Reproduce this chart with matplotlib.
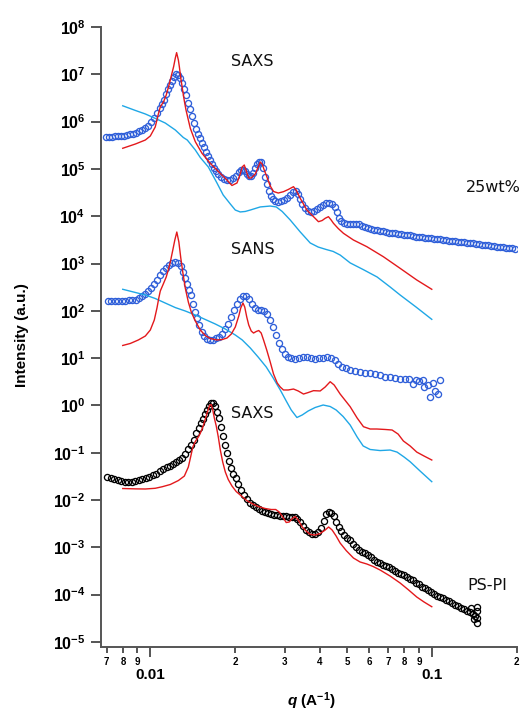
import matplotlib
matplotlib.use("Agg")
import matplotlib.pyplot as plt
from matplotlib.ticker import FixedLocator

# ---------------- data ----------------
# SAXS, 25wt% (blue open circles)
saxs25_q = [0.00698, 0.00715, 0.00733, 0.00751, 0.00770, 0.00789, 0.00809, 0.00829, 0.00849, 0.00871,
            0.00892, 0.00914, 0.00937, 0.00960, 0.00984, 0.01008, 0.01033, 0.01059, 0.01085, 0.01103,
            0.01121, 0.01139, 0.01158, 0.01178, 0.01197, 0.01217, 0.01237, 0.01258, 0.01278, 0.01299,
            0.01321, 0.01342, 0.01365, 0.01387, 0.01410, 0.01433, 0.01457, 0.01481, 0.01505, 0.01530,
            0.01555, 0.01581, 0.01607, 0.01633, 0.01660, 0.01688, 0.01715, 0.01744, 0.01786, 0.01831,
            0.01876, 0.01923, 0.01970, 0.02019, 0.02070, 0.02104, 0.02138, 0.02174, 0.02210, 0.02246,
            0.02283, 0.02320, 0.02360, 0.02398, 0.02437, 0.02477, 0.02518, 0.02561, 0.02602, 0.02644,
            0.02689, 0.02733, 0.02779, 0.02848, 0.02917, 0.02990, 0.03064, 0.03141, 0.03218, 0.03298,
            0.03353, 0.03409, 0.03464, 0.03551, 0.03638, 0.03728, 0.03821, 0.03916, 0.04013, 0.04112,
            0.04214, 0.04318, 0.04426, 0.04537, 0.04612, 0.04688, 0.04764, 0.04883, 0.05004, 0.05129,
            0.05256, 0.05387, 0.05520, 0.05658, 0.05797, 0.05941, 0.06088, 0.06240, 0.06394, 0.06553,
            0.06715, 0.06882, 0.07052, 0.07227, 0.07406, 0.07592, 0.07780, 0.07973, 0.08171, 0.08375,
            0.08583, 0.08796, 0.09013, 0.09238, 0.09467, 0.09703, 0.09943, 0.1019, 0.1044, 0.1070,
            0.1097, 0.1124, 0.1152, 0.1181, 0.1210, 0.1240, 0.1271, 0.1302, 0.1335, 0.1368,
            0.1402, 0.1437, 0.1472, 0.1509, 0.1547, 0.1585, 0.1624, 0.1664, 0.1705, 0.1748,
            0.1791, 0.1836, 0.1881, 0.1928, 0.1976]
saxs25_I = [4.84e5, 4.84e5, 4.84e5, 4.89e5, 4.96e5, 5.01e5, 5.08e5, 5.21e5, 5.34e5, 5.47e5,
            5.74e5, 6.18e5, 6.64e5, 7.32e5, 8.26e5, 1.0e6, 1.19e6, 1.52e6, 1.94e6, 2.36e6,
            2.86e6, 3.84e6, 4.89e6, 5.94e6, 7.21e6, 8.77e6, 1.01e7, 9.66e6, 8.35e6, 6.55e6,
            4.89e6, 3.65e6, 2.47e6, 1.85e6, 1.31e6, 9.33e5, 6.98e5, 5.47e5, 4.50e5, 3.53e5,
            2.90e5, 2.28e5, 1.87e5, 1.54e5, 1.27e5, 1.04e5, 9.03e4, 7.80e4, 6.74e4, 6.11e4,
            5.82e4, 5.82e4, 6.42e4, 7.08e4, 8.59e4, 9.48e4, 9.71e4, 9.03e4, 7.80e4, 7.08e4,
            7.08e4, 8.18e4, 1.04e5, 1.27e5, 1.43e5, 1.40e5, 1.04e5, 6.74e4, 4.80e4, 3.41e4,
            2.67e4, 2.31e4, 2.10e4, 2.00e4, 2.05e4, 2.20e4, 2.43e4, 2.81e4, 3.25e4, 3.33e4,
            2.94e4, 2.31e4, 1.81e4, 1.49e4, 1.29e4, 1.23e4, 1.29e4, 1.42e4, 1.57e4, 1.73e4,
            1.86e4, 1.90e4, 1.81e4, 1.57e4, 1.23e4, 9.17e3, 7.93e3, 7.18e3, 6.84e3, 6.84e3,
            6.84e3, 7.01e3, 6.84e3, 6.35e3, 5.91e3, 5.50e3, 5.24e3, 5.11e3, 4.99e3, 4.87e3,
            4.75e3, 4.63e3, 4.52e3, 4.41e3, 4.31e3, 4.20e3, 4.14e3, 4.06e3, 3.96e3, 3.91e3,
            3.81e3, 3.72e3, 3.63e3, 3.58e3, 3.53e3, 3.46e3, 3.41e3, 3.36e3, 3.29e3, 3.25e3,
            3.18e3, 3.11e3, 3.05e3, 2.99e3, 2.95e3, 2.90e3, 2.85e3, 2.81e3, 2.77e3, 2.71e3,
            2.66e3, 2.61e3, 2.56e3, 2.51e3, 2.46e3, 2.42e3, 2.37e3, 2.32e3, 2.28e3, 2.23e3,
            2.20e3, 2.17e3, 2.13e3, 2.10e3, 2.06e3]

# SAXS 25wt% models
saxs25_red_q = [0.00798, 0.00885, 0.00960, 0.01000, 0.01041, 0.01068, 0.01085, 0.01115, 0.01139, 0.01161,
                0.01187, 0.01210, 0.01227, 0.01240, 0.01258, 0.01268, 0.01283, 0.01302, 0.01321, 0.01339,
                0.01365, 0.01387, 0.01445, 0.01526, 0.01633, 0.01748, 0.01872, 0.01950, 0.02032, 0.02087,
                0.02121, 0.02157, 0.02192, 0.02234, 0.02283, 0.02360, 0.02417, 0.02458, 0.02497, 0.02539,
                0.02596, 0.02667, 0.02740, 0.02848, 0.02972, 0.03091, 0.03226, 0.03298, 0.03409, 0.03600,
                0.03800, 0.03958, 0.04079, 0.04181, 0.04294, 0.04390, 0.04474, 0.04651, 0.04855, 0.05268,
                0.05877, 0.06732, 0.07718, 0.08846, 0.1]
saxs25_red_I = [2.73e5, 3.36e5, 4.08e5, 4.97e5, 7.69e5, 1.45e6, 2.04e6, 2.64e6, 3.65e6, 5.47e6,
                9.20e6, 1.45e7, 2.21e7, 2.87e7, 2.0e7, 1.45e7, 8.35e6, 4.66e6, 2.73e6, 1.76e6,
                1.08e6, 7.21e5, 3.76e5, 2.14e5, 1.31e5, 8.73e4, 5.82e4, 4.46e4, 5.04e4, 7.80e4,
                1.10e5, 1.21e5, 9.03e4, 6.43e4, 6.43e4, 7.80e4, 1.10e5, 1.40e5, 1.27e5, 9.48e4,
                6.74e4, 4.36e4, 3.33e4, 3.09e4, 3.30e4, 3.67e4, 4.21e4, 3.57e4, 2.39e4, 1.35e4,
                9.77e3, 7.65e3, 8.11e3, 9.03e3, 9.77e3, 8.32e3, 7.08e3, 5.50e3, 4.35e3, 3.14e3,
                2.27e3, 1.39e3, 7.91e2, 4.48e2, 2.85e2]
saxs25_cyan_q = [0.00798, 0.00885, 0.00960, 0.01041, 0.01130, 0.01227, 0.01310, 0.01353, 0.01445, 0.01505,
                 0.01607, 0.01725, 0.01815, 0.01923, 0.02004, 0.02087, 0.02174, 0.02265, 0.02458, 0.02667,
                 0.02802, 0.02941, 0.03141, 0.03409, 0.03698, 0.03948, 0.04214, 0.04463, 0.04726, 0.05129,
                 0.05704, 0.06394, 0.07112, 0.07718, 0.08796, 0.1]
saxs25_cyan_I = [2.16e6, 1.72e6, 1.45e6, 1.17e6, 9.33e5, 6.64e5, 4.61e5, 4.08e5, 2.51e5, 1.74e5,
                 1.10e5, 5.04e4, 2.81e4, 1.82e4, 1.35e4, 1.23e4, 1.26e4, 1.35e4, 1.57e4, 1.64e4,
                 1.57e4, 1.26e4, 8.32e3, 4.65e3, 2.72e3, 2.23e3, 1.98e3, 1.80e3, 1.51e3, 1.03e3,
                 7.46e2, 5.19e2, 3.19e2, 2.16e2, 1.20e2, 66]

# SANS (blue open circles)
sans_q = [0.00708, 0.00727, 0.00748, 0.00770, 0.00792, 0.00815, 0.00839, 0.00863, 0.00888, 0.00914,
          0.00937, 0.00960, 0.00984, 0.01008, 0.01033, 0.01059, 0.01085, 0.01112, 0.01139, 0.01168,
          0.01197, 0.01227, 0.01258, 0.01283, 0.01310, 0.01331, 0.01353, 0.01376, 0.01398, 0.01422,
          0.01445, 0.01469, 0.01493, 0.01524, 0.01555, 0.01594, 0.01633, 0.01673, 0.01715, 0.01758,
          0.01801, 0.01847, 0.01892, 0.01940, 0.01987, 0.02037, 0.02087, 0.02138, 0.02192, 0.02246,
          0.02302, 0.02360, 0.02417, 0.02477, 0.02539, 0.02602, 0.02667, 0.02733, 0.02802, 0.02871,
          0.02941, 0.03016, 0.03091, 0.03167, 0.03272, 0.03381, 0.03492, 0.03609, 0.03728, 0.03853,
          0.03981, 0.04112, 0.04249, 0.04390, 0.04537, 0.04651, 0.04805, 0.04964, 0.05129, 0.05342,
          0.05565, 0.05797, 0.0604, 0.06290, 0.06553, 0.06826, 0.07112, 0.07406, 0.07718, 0.08039,
          0.08307, 0.08583, 0.08796, 0.09013, 0.09311, 0.09388, 0.09703, 0.09862, 0.1011, 0.1027,
          0.1053, 0.1070]
sans_I = [161, 161, 161, 163, 165, 165, 168, 169, 173, 187,
          201, 227, 262, 303, 369, 448, 571, 694, 822, 952,
          1050, 1100, 1050, 885, 661, 493, 369, 275, 216, 139,
          96.6, 70.5, 50.1, 35.6, 29.3, 25.9, 24.7, 24.7, 26.6, 28.6,
          33.1, 41.2, 53.9, 74.0, 104, 139, 177, 205, 201, 177,
          139, 115, 106, 104, 99.1, 85.6, 63.9, 45.4, 30.8, 20.8,
          15.6, 12.5, 10.8, 10.0, 9.81, 10.3, 10.8, 10.5, 10.0, 9.81,
          10.0, 10.3, 10.5, 10.3, 9.12, 7.50, 6.48, 6.03, 5.60, 5.33,
          5.08, 4.95, 4.84, 4.61, 4.29, 4.08, 3.98, 3.88, 3.70, 3.70,
          3.53, 2.83, 3.44, 3.36, 3.44, 2.45, 2.70, 1.53, 2.98, 2.05,
          1.72, 3.44]

# SANS models
sans_red_q = [0.00798, 0.00849, 0.00907, 0.00960, 0.01000, 0.01033, 0.01056, 0.01072, 0.01085, 0.01112,
              0.01139, 0.01158, 0.01178, 0.01202, 0.01222, 0.01242, 0.01263, 0.01283, 0.01304, 0.01331,
              0.01365, 0.01398, 0.01445, 0.01505, 0.01568, 0.01633, 0.01725, 0.01801, 0.01872, 0.01940,
              0.02004, 0.02062, 0.02096, 0.02134, 0.02165, 0.02201, 0.02237, 0.02283, 0.02327, 0.02378,
              0.02428, 0.02477, 0.02525, 0.02592, 0.02667, 0.02740, 0.02824, 0.02895, 0.02972, 0.03091,
              0.03226, 0.03353, 0.03501, 0.03638, 0.03800, 0.04013, 0.04181, 0.04355, 0.04500, 0.04726,
              0.05129, 0.05430, 0.05718, 0.06040, 0.06379, 0.06826, 0.07227, 0.07592, 0.07927, 0.08375,
              0.08846, 0.09388, 0.1]
sans_red_I = [18.5, 20.4, 24.2, 29.3, 39.3, 63.9, 115, 187, 262, 369,
              519, 729, 1080, 1930, 3140, 4630, 2850, 1310, 661, 303,
              153, 94.3, 60.9, 39.3, 30.0, 25.9, 24.2, 24.7, 26.6, 32.3,
              45.4, 77.6, 115, 146, 120, 74.0, 50.1, 37.4, 33.9, 36.5,
              38.3, 33.9, 24.2, 14.8, 8.28, 4.61, 2.98, 2.45, 2.12, 2.12,
              2.22, 2.02, 1.74, 1.87, 2.05, 2.02, 2.45, 3.17, 2.70, 1.74,
              0.940, 0.542, 0.355, 0.317, 0.317, 0.310, 0.302, 0.248, 0.177, 0.139,
              0.103, 0.0851, 0.0701]
sans_cyan_q = [0.00798, 0.00885, 0.00960, 0.01041, 0.01130, 0.01227, 0.01331, 0.01445, 0.01568, 0.01702,
               0.01847, 0.02004, 0.02121, 0.02265, 0.02417, 0.02582, 0.02733, 0.02895, 0.03040, 0.03167,
               0.03318, 0.03464, 0.03638, 0.03853, 0.04112, 0.04355, 0.04574, 0.04843, 0.05129, 0.05430,
               0.05704, 0.06040, 0.06553, 0.07112, 0.07529, 0.07973, 0.08375, 0.09088, 0.1]
sans_cyan_I = [285, 244, 216, 182, 146, 117, 99.1, 81.5, 65.5, 52.6,
               41.2, 30.8, 24.2, 16.4, 10.5, 6.48, 3.79, 2.12, 1.24, 0.800,
               0.555, 0.627, 0.762, 0.904, 1.02, 0.948, 0.800, 0.582, 0.385, 0.215,
               0.139, 0.117, 0.111, 0.114, 0.103, 0.0811, 0.0646, 0.0410, 0.0244]

# SAXS, PS-PI (black open circles)
pspi_q = [0.00704, 0.00724, 0.00745, 0.00767, 0.00789, 0.00812, 0.00835, 0.00860, 0.00885, 0.00910,
          0.00937, 0.00964, 0.00992, 0.01021, 0.01050, 0.01081, 0.01112, 0.01144, 0.01178, 0.01207,
          0.01237, 0.01268, 0.01299, 0.01331, 0.01365, 0.01398, 0.01427, 0.01457, 0.01487, 0.01518,
          0.01542, 0.01568, 0.01594, 0.01620, 0.01647, 0.01673, 0.01702, 0.01729, 0.01758, 0.01786,
          0.01815, 0.01847, 0.01876, 0.01907, 0.01940, 0.01970, 0.02011, 0.02053, 0.02104, 0.02157,
          0.02210, 0.02265, 0.02320, 0.02378, 0.02437, 0.02497, 0.02561, 0.02624, 0.02689, 0.02756,
          0.02824, 0.02895, 0.02966, 0.03040, 0.03115, 0.03193, 0.03259, 0.03325, 0.03409, 0.03492,
          0.03579, 0.03667, 0.03759, 0.03853, 0.03948, 0.04046, 0.04128, 0.04214, 0.04300, 0.04390,
          0.04480, 0.04574, 0.04668, 0.04764, 0.04883, 0.05004, 0.05129, 0.05256, 0.05387, 0.05520,
          0.05658, 0.05797, 0.05941, 0.06088, 0.06240, 0.06394, 0.06553, 0.06715, 0.06882, 0.07052,
          0.07227, 0.07406, 0.07592, 0.07780, 0.07973, 0.08171, 0.08375, 0.08583, 0.08796, 0.09013,
          0.09238, 0.09467, 0.09703, 0.09943, 0.1019, 0.1044, 0.1070, 0.1097, 0.1124, 0.1152,
          0.1181, 0.1210, 0.1240, 0.1271, 0.1302, 0.1335, 0.1368, 0.1396, 0.1425, 0.1442,
          0.1448, 0.1448, 0.1448, 0.1413, 0.1379]
pspi_I = [0.0311, 0.0292, 0.0274, 0.0261, 0.0252, 0.0246, 0.0244, 0.0246, 0.0252, 0.0261,
          0.0274, 0.0292, 0.0311, 0.0334, 0.0363, 0.0401, 0.0442, 0.0499, 0.0536, 0.0577,
          0.0621, 0.0701, 0.0792, 0.0940, 0.117, 0.146, 0.186, 0.261, 0.333, 0.425,
          0.528, 0.643, 0.800, 0.995, 1.12, 1.10, 0.971, 0.725, 0.542, 0.349,
          0.225, 0.146, 0.0986, 0.0668, 0.0475, 0.0363, 0.0285, 0.0218, 0.0163, 0.0128,
          0.0103, 8.65e-3, 7.66e-3, 6.95e-3, 6.46e-3, 6.00e-3, 5.57e-3, 5.31e-3, 5.06e-3, 4.93e-3,
          4.82e-3, 4.70e-3, 4.59e-3, 4.70e-3, 4.48e-3, 4.37e-3, 4.48e-3, 3.96e-3, 3.43e-3, 2.82e-3,
          2.32e-3, 2.06e-3, 1.91e-3, 1.91e-3, 2.10e-3, 2.56e-3, 3.60e-3, 5.06e-3, 5.71e-3, 5.44e-3,
          4.59e-3, 3.43e-3, 2.69e-3, 2.21e-3, 1.82e-3, 1.57e-3, 1.43e-3, 1.17e-3, 9.91e-4, 8.77e-4,
          7.96e-4, 7.40e-4, 6.87e-4, 6.24e-4, 5.52e-4, 5.01e-4, 4.66e-4, 4.33e-4, 4.12e-4, 3.83e-4,
          3.48e-4, 3.23e-4, 2.93e-4, 2.73e-4, 2.54e-4, 2.36e-4, 2.14e-4, 1.99e-4, 1.80e-4, 1.64e-4,
          1.48e-4, 1.38e-4, 1.25e-4, 1.14e-4, 1.03e-4, 9.57e-5, 8.89e-5, 8.47e-5, 7.87e-5, 7.33e-5,
          6.64e-5, 6.18e-5, 5.74e-5, 5.33e-5, 4.96e-5, 4.61e-5, 4.28e-5, 3.89e-5, 3.52e-5, 5.47e-5,
          4.50e-5, 3.20e-5, 2.57e-5, 3.05e-5, 5.21e-5]
pspi_red_q = [0.00798, 0.00885, 0.00960, 0.01041, 0.01103, 0.01178, 0.01258, 0.01321, 0.01365, 0.01393,
              0.01416, 0.01445, 0.01481, 0.01505, 0.01542, 0.01568, 0.01599, 0.01627, 0.01647, 0.01667,
              0.01688, 0.01715, 0.01744, 0.01773, 0.01808, 0.01847, 0.01892, 0.01950, 0.02019, 0.02116,
              0.02201, 0.02296, 0.02417, 0.02561, 0.02689, 0.02790, 0.02871, 0.02954, 0.03040, 0.03115,
              0.03193, 0.03272, 0.03353, 0.03464, 0.03579, 0.03698, 0.03853, 0.04013, 0.04181, 0.04300,
              0.04426, 0.04574, 0.04726, 0.04964, 0.05268, 0.05565, 0.05877, 0.06189, 0.06553, 0.07112,
              0.07718, 0.08239, 0.08846, 0.09388, 0.1]
pspi_red_I = [0.0175, 0.0172, 0.0171, 0.0177, 0.0191, 0.0213, 0.0258, 0.0321, 0.0499, 0.0851,
              0.132, 0.173, 0.215, 0.257, 0.367, 0.515, 0.762, 1.02, 1.04, 0.800,
              0.542, 0.367, 0.215, 0.114, 0.0636, 0.0391, 0.0271, 0.0198, 0.0151, 0.0119,
              9.76e-3, 8.43e-3, 7.29e-3, 6.61e-3, 6.30e-3, 6.30e-3, 5.57e-3, 4.37e-3, 3.34e-3, 3.43e-3,
              4.06e-3, 4.48e-3, 3.78e-3, 2.69e-3, 2.21e-3, 1.87e-3, 1.82e-3, 1.96e-3, 2.32e-3, 2.69e-3,
              2.32e-3, 1.73e-3, 1.23e-3, 8.55e-4, 5.94e-4, 4.89e-4, 4.44e-4, 3.93e-4, 3.31e-4, 2.47e-4,
              1.76e-4, 1.28e-4, 8.89e-5, 6.98e-5, 5.55e-5]

# tick labels
y_exponents = list(range(-5, 9))
x_major = [0.01, 0.1]
x_major_labels = ["0.01", "0.1"]
x_minor = [0.007, 0.008, 0.009, 0.02, 0.03, 0.04, 0.05, 0.06, 0.07, 0.08, 0.09, 0.2]
x_minor_labels = ["7", "8", "9", "2", "3", "4", "5", "6", "7", "8", "9", "2"]

# ---------------- style ----------------
plt.rcParams['mathtext.fontset'] = 'custom'
plt.rcParams['mathtext.rm'] = 'Liberation Sans:bold'
plt.rcParams['mathtext.bf'] = 'Liberation Sans:bold'
plt.rcParams['mathtext.it'] = 'Liberation Sans:bold:italic'
plt.rcParams['font.family'] = ['Liberation Sans', 'DejaVu Sans']

BLUE = '#2f5fd9'
RED = '#e3191c'
CYAN = '#1fa7e6'
AXC = '#555555'

W, H = 521, 711
fig = plt.figure(figsize=(W / 100, H / 100), dpi=100)
ax = fig.add_axes([101 / W, 1 - 646.5 / H, (516.5 - 101) / W, (646.5 - 27) / H])
ax.set_xscale('log')
ax.set_yscale('log')
ax.set_xlim(0.00668, 0.2)
ax.set_ylim(8.0e-6, 1e8)

mk = dict(linestyle='none', marker='o', markersize=4.4, markerfacecolor='none', markeredgewidth=0.95)
ax.plot(saxs25_q, saxs25_I, markeredgecolor=BLUE, **mk, zorder=2)
ax.plot(sans_q, sans_I, markeredgecolor=BLUE, **mk, zorder=2)
ax.plot(pspi_q, pspi_I, markeredgecolor='black', **mk, zorder=2)

ax.plot(saxs25_cyan_q, saxs25_cyan_I, color=CYAN, lw=1.0, zorder=3)
ax.plot(sans_cyan_q, sans_cyan_I, color=CYAN, lw=1.0, zorder=3)
ax.plot(saxs25_red_q, saxs25_red_I, color=RED, lw=1.0, zorder=4)
ax.plot(sans_red_q, sans_red_I, color=RED, lw=1.0, zorder=4)
ax.plot(pspi_red_q, pspi_red_I, color=RED, lw=1.0, zorder=4)

# axes styling
for s in ['top', 'right']:
    ax.spines[s].set_visible(False)
for s in ['left', 'bottom']:
    ax.spines[s].set_color(AXC)
    ax.spines[s].set_linewidth(1.4)

ax.yaxis.set_major_locator(FixedLocator([10.0 ** k for k in y_exponents]))
ax.set_yticklabels([r'$10^{%d}$' % k for k in y_exponents], fontsize=11.5)
ax.yaxis.set_minor_locator(FixedLocator([]))
ax.tick_params(axis='y', which='major', direction='out', length=7.2, width=1.4, color=AXC, pad=4)

ax.xaxis.set_major_locator(FixedLocator(x_major))
ax.set_xticklabels(x_major_labels, fontsize=11, fontweight='bold')
ax.xaxis.set_minor_locator(FixedLocator(x_minor))
ax.set_xticklabels(x_minor_labels, minor=True, fontsize=7, fontweight='bold')
ax.tick_params(axis='x', which='major', direction='out', length=7.2, width=1.4, color=AXC, pad=8.5)
ax.tick_params(axis='x', which='minor', direction='out', length=4.3, width=1.4, color=AXC, pad=3.0)

# axis titles
fig.text(22 / W, 1 - 335 / H, 'Intensity (a.u.)', rotation=90, fontsize=11, fontweight='bold',
         ha='center', va='center')
fig.text(311 / W, 1 - 701 / H, r'$\mathit{q}$ (A$^{-1}$)', fontsize=11, fontweight='bold',
         ha='center', va='center')

# annotations
tk = dict(fontsize=11.5, family='DejaVu Sans', ha='center', va='center', color='#111111')
fig.text(252 / W, 1 - 62 / H, 'SAXS', **tk)
fig.text(253 / W, 1 - 250 / H, 'SANS', **tk)
fig.text(252.5 / W, 1 - 414 / H, 'SAXS', **tk)
fig.text(493 / W, 1 - 188 / H, '25wt%', **tk)
fig.text(487 / W, 1 - 586 / H, 'PS-PI', **tk)

fig.savefig('out.png', dpi=100)
